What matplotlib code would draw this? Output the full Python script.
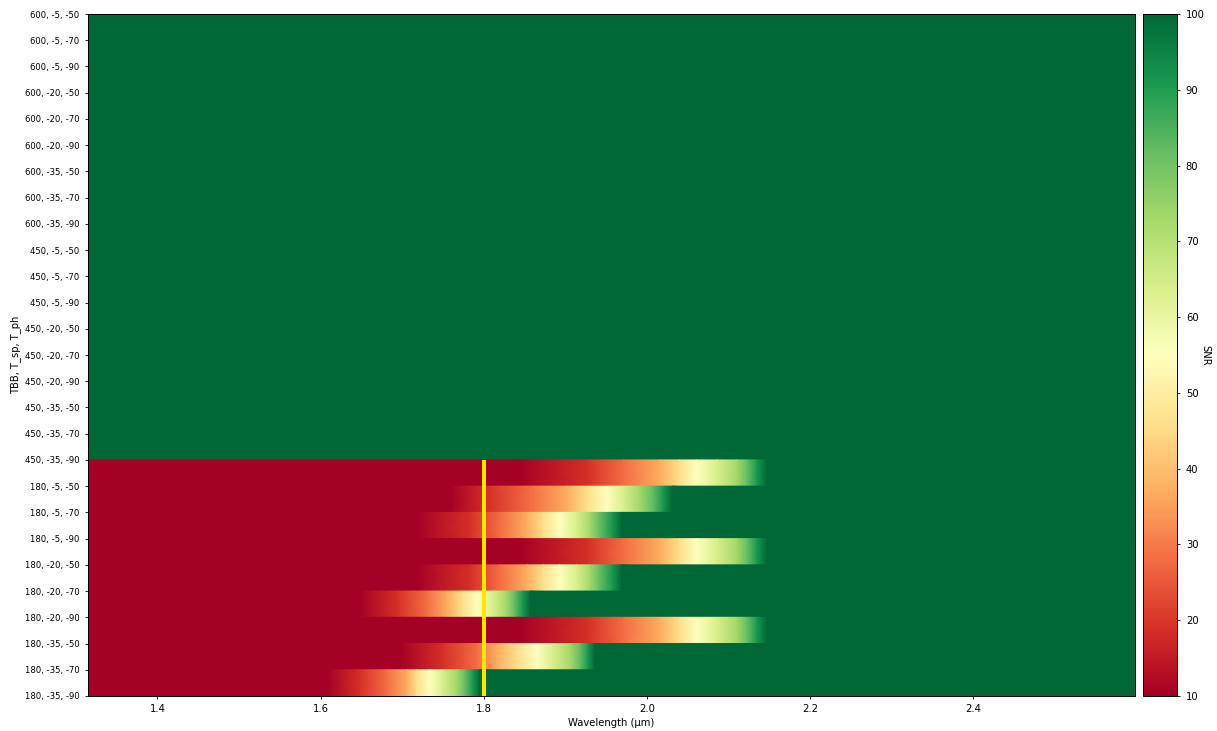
import matplotlib.pyplot as plt
import numpy as np

# Rows: (TBB, T_sp, T_ph), top to bottom
tbb_values = [600, 450, 180]
tsp_values = [-5, -20, -35]
tph_values = [-50, -70, -90]
row_labels = [f"{tbb}, {tsp}, {tph}"
              for tbb in tbb_values for tsp in tsp_values for tph in tph_values]

# Wavelength span of the grid (um)
wavelength_range = [1.315, 2.598]

# SNR levels and the wavelength (um) where each TBB=180 row reaches them.
# Rows not listed are at SNR >= 100 over the whole span.
snr_levels = [10, 19, 28, 37, 46, 55, 64, 73, 82, 91, 100]
snr_crossings = {
    "180, -5, -50":  [1.844, 1.927, 1.971, 2.016, 2.040, 2.061, 2.086, 2.110, 2.123, 2.135, 2.147],
    "180, -5, -70":  [1.759, 1.805, 1.857, 1.902, 1.927, 1.951, 1.971, 1.991, 2.007, 2.020, 2.031],
    "180, -5, -90":  [1.718, 1.783, 1.820, 1.853, 1.873, 1.893, 1.914, 1.930, 1.942, 1.958, 1.969],
    "180, -20, -50": [1.844, 1.927, 1.971, 2.016, 2.040, 2.061, 2.086, 2.110, 2.123, 2.135, 2.147],
    "180, -20, -70": [1.718, 1.783, 1.820, 1.853, 1.873, 1.893, 1.914, 1.930, 1.942, 1.958, 1.969],
    "180, -20, -90": [1.648, 1.694, 1.730, 1.755, 1.774, 1.792, 1.811, 1.828, 1.838, 1.848, 1.857],
    "180, -35, -50": [1.844, 1.927, 1.971, 2.016, 2.040, 2.061, 2.086, 2.110, 2.123, 2.135, 2.147],
    "180, -35, -70": [1.697, 1.750, 1.792, 1.816, 1.841, 1.865, 1.885, 1.906, 1.918, 1.928, 1.936],
    "180, -35, -90": [1.608, 1.648, 1.681, 1.706, 1.718, 1.734, 1.750, 1.767, 1.777, 1.787, 1.795],
}

cutoff_wavelength = 1.8

fig = plt.figure(figsize=(12.17, 7.31), dpi=100)
ax = fig.add_axes([0.0723, 0.0479, 0.8603, 0.9329])
cax = fig.add_axes([0.9392, 0.0479, 0.0283, 0.9329])

n = len(row_labels)
for k, label in enumerate(row_labels):
    y = n - 1 - k  # each row sits above its own tick
    if label in snr_crossings:
        xs = [wavelength_range[0]] + snr_crossings[label] + [wavelength_range[1]]
        cs = [snr_levels[0]] + snr_levels + [snr_levels[-1]]
    else:
        xs = wavelength_range
        cs = [snr_levels[-1]] * 2
    X = np.array([xs, xs])
    Y = np.array([[y] * len(xs), [y + 1] * len(xs)])
    C = np.array([cs, cs])
    mesh = ax.pcolormesh(X, Y, C, cmap='RdYlGn', vmin=snr_levels[0],
                         vmax=snr_levels[-1], shading='gouraud',
                         antialiased=False, edgecolors='none')

ax.vlines(cutoff_wavelength, 0, len(snr_crossings), color='#ffe600', linewidth=2.9, zorder=3)

ax.set_xlim(wavelength_range)
ax.set_ylim(0, n - 1)
ax.set_yticks([n - 1 - k for k in range(n)], row_labels)
ax.tick_params(axis='y', labelsize=6.1, length=2.5, width=0.6)
ax.tick_params(axis='x', labelsize=7.2, length=2.5, width=0.6)
ax.set_xlabel('Wavelength (µm)', fontsize=7.2, labelpad=3)
ax.set_ylabel('TBB, T_sp, T_ph', fontsize=7.2, labelpad=3)
for s in ax.spines.values():
    s.set_linewidth(0.7)

cb = fig.colorbar(mesh, cax=cax)
cb.set_ticks(range(10, 101, 10))
cb.ax.tick_params(labelsize=7.2, length=2.5, width=0.6)
cb.outline.set_linewidth(0.7)
cb.set_label('SNR', rotation=270, fontsize=7.2)

plt.savefig('out.png', dpi=100)
